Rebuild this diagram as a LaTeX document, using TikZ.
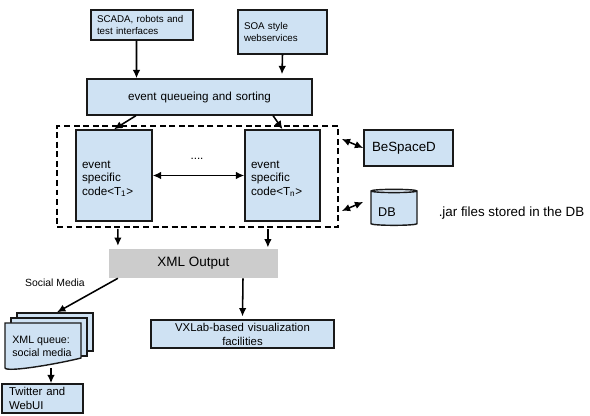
\documentclass[tikz,border=0pt]{standalone}
\usepackage{xcolor}
\usepackage{fontspec}
\setmainfont{Liberation Sans}
\usetikzlibrary{shapes.geometric, arrows.meta}
\definecolor{boxblue}{HTML}{CFE2F3}
\definecolor{boxtop}{HTML}{E3EEF8}
\definecolor{boxgray}{HTML}{CCCCCC}
\newcommand{\fsize}[2]{\fontsize{#1}{#2}\selectfont}
\tikzset{
    bluebox/.style={draw=black!90, line width=1pt, fill=boxblue, inner xsep=0.15cm, inner ysep=0pt, align=left},
    smalltext/.style={font=\fsize{6.95}{8.6}},
    codetext/.style={font=\fsize{8.3}{9.6}},
    conn/.style={line width=1.1pt}
}

\begin{document}
\begin{tikzpicture}[>={Latex[length=2.1mm,width=1.9mm]}]
        \useasboundingbox (0,0) rectangle (14.75,10.4);
        % Input boxes
        \node[bluebox, smalltext, text width=2.25cm, minimum height=0.75cm] (scada) at (3.55,9.775) {SCADA, robots and\\test interfaces};
        \node[bluebox, smalltext, text width=1.925cm, minimum height=1.1cm] (soa) at (7.0625,9.6) {SOA style\\webservices};
        \node[bluebox, codetext, text width=5.325cm, align=center, minimum height=0.9cm] (queue) at (4.9875,7.975) {event queueing and sorting};

        % Dashed frame and event code
        \node[draw, line width=1pt, dash pattern=on 4.2pt off 2.6pt, minimum width=7.025cm, minimum height=2.525cm] (frame) at (4.9375,5.9875) {};
        \node[bluebox, codetext, text width=1.6cm, minimum height=2.275cm] (code1) at (2.85,6.0125) {\rule{0pt}{1.2em}event\\specific\\code<T\textsubscript{1}>};
        \node[bluebox, codetext, text width=1.575cm, minimum height=2.275cm] (coden) at (7.0625,6.0125) {\rule{0pt}{1.2em}event\\specific\\code<T\textsubscript{n}>};
        \node[codetext, anchor=base, inner sep=0pt] (dots) at (4.925,6.4) {....};

        % Right side
        \node[bluebox, font=\fsize{9.5}{11}, inner xsep=0.2cm, text width=1.825cm, minimum height=0.9cm] (bespaced) at (10.2125,6.7) {BeSpaceD};
        \node[draw=black!90, line width=1pt, cylinder, shape border rotate=90, aspect=0.35, cylinder uses custom fill, cylinder body fill=boxblue, cylinder end fill=boxtop, minimum width=1.15cm, minimum height=0.9cm] (dbcyl) at (9.85,5.175) {};
        \node[font=\fsize{9}{11}, inner sep=0pt] (dblabel) at (9.675,5.1) {DB};
        \node[font=\fsize{9.5}{11}, inner sep=0pt] (jarnote) at (12.7875,5.075) {.jar files stored in the DB};

        % Output boxes
        \node[fill=boxgray, font=\fsize{9.6}{11}, minimum width=4.225cm, minimum height=0.725cm, inner sep=0pt] (xmlout) at (4.8375,3.8125) {XML Output};
        \node[bluebox, font=\fsize{8.1}{9.9}, text width=4.275cm, align=center, minimum height=0.7cm] (vxlab) at (6.0625,2.05) {VXLab-based visualization\\facilities};
        \node[font=\fsize{7.4}{9}, inner sep=0pt] (social) at (1.375,3.325) {Social Media};

        % Stack of XML queue pages
        \node[bluebox, minimum width=1.9cm, minimum height=0.95cm] (doc3) at (1.375,2.1) {};
        \node[bluebox, minimum width=1.9cm, minimum height=0.95cm] (doc2) at (1.225,1.975) {};
        \node[minimum width=1.9cm, minimum height=1.125cm, inner sep=0pt, outer sep=0pt] (doc1) at (1.075,1.7625) {};
        \draw[draw=black!90, line width=1pt, fill=boxblue] (doc1.south west) -- (doc1.north west) -- (doc1.north east) -- ([yshift=0.25cm]doc1.south east)
            .. controls ([xshift=-0.5cm,yshift=0.12cm]doc1.south east) and ([xshift=-0.9cm,yshift=-0.12cm]doc1.south) .. (doc1.south west) -- cycle;
        \node[font=\fsize{7.6}{9.2}, align=left, inner sep=0pt, anchor=west] (doctext) at (0.3,1.75) {XML queue:\\social media};
        \node[bluebox, font=\fsize{8.1}{9.9}, inner xsep=0.175cm, text width=1.675cm, minimum height=0.725cm] (twitter) at (1.0625,0.4375) {Twitter and\\WebUI};

        \draw[->, conn] ([xshift=-0.1375cm]scada.south) -- ([xshift=-1.575cm]queue.north);
        \draw[->, conn] (soa.south) -- ([xshift=2.0625cm,yshift=0.1cm]queue.north);
        \draw[->, conn] ([xshift=-1.59cm]queue.south) -- (code1.north);
        \draw[->, conn] ([xshift=1.84cm]queue.south) -- (coden.north);
        \draw[<->, conn] (code1) -- (coden);
        \draw[->, conn] ([xshift=-1.99cm,yshift=-0.03cm]frame.south) -- ([xshift=-1.89cm,yshift=0.07cm]xmlout.north);
        \draw[->, conn] ([xshift=1.76cm,yshift=-0.03cm]frame.south) -- ([xshift=1.86cm,yshift=0.03cm]xmlout.north);
        \draw[->, conn] ([xshift=-1.89cm]xmlout.south) -- ([xshift=0.05cm]doc3.north);
        \draw[->, conn] ([xshift=1.2375cm]xmlout.south) -- ([yshift=0.07cm]vxlab.north);
        \draw[->, conn] ([xshift=0.2cm]doc1.south) -- ([xshift=0.2125cm]twitter.north);
        \draw[<->, conn] ([xshift=0.075cm,yshift=0.9375cm]frame.east) -- (bespaced.west);
        \draw[<->, conn] ([xshift=0.075cm,yshift=-0.8625cm]frame.east) -- ([xshift=-0.175cm,yshift=0.175cm]dbcyl.west);
    \end{tikzpicture}
\end{document}
